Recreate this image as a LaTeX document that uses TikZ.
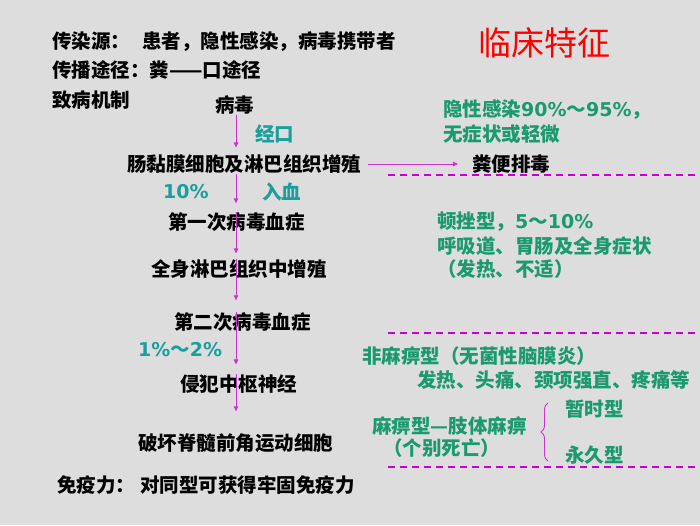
\documentclass[tikz,border=0pt]{standalone}
\usepackage{fontspec}
\newfontfamily\cjk{Noto Sans CJK SC}
\newfontfamily\lat{DejaVu Sans}
\newcommand{\dg}[1]{{\lat\fontsize{19}{22}\selectfont #1}}
\usetikzlibrary{decorations.pathreplacing,arrows.meta}
\definecolor{bg}{HTML}{DDDDDD}
\definecolor{tealc}{HTML}{1A9E9E}
\definecolor{greenc}{HTML}{1A9A6E}
\definecolor{mag}{HTML}{CC33CC}
\definecolor{magd}{HTML}{CC00CC}
\begin{document}
\begin{tikzpicture}[x=1pt,y=-1pt,
  every node/.style={inner sep=0pt, anchor=west, font=\cjk\bfseries\fontsize{19.5}{22}\selectfont},
  blk/.style={text=black},
  tl/.style={text=tealc},
  gr/.style={text=greenc},
  flow/.style={draw=mag, line width=0.9pt, -{Triangle[length=5pt,width=4.5pt]}},
  sep/.style={draw=magd, line width=1.3pt, dash pattern=on 7pt off 5pt},
  bracestyle/.style={draw=mag, line width=0.9pt, decorate, decoration={brace, amplitude=7pt}}]
\fill[bg] (0,0) rectangle (700,525);
\useasboundingbox (0,0) rectangle (700,525);
\coordinate (ax) at (236,0);
% left column
\node[blk] (src) at (52,42) {传染源：\hspace{12pt}患者，隐性感染，病毒携带者};
\node[blk] (route) at (52,70) {传播途径：粪——口途径};
\node[blk] (mech) at (52,100) {致病机制};
\node[blk] (virus) at (215,105) {病毒};
\node[tl] (oral) at (255,134) {经口};
\node[blk] (gut) at (127,164) {肠黏膜细胞及淋巴组织增殖};
\node[tl] (ten) at (163,192) {\dg{10\%}};
\node[tl] (blood) at (262,192) {入血};
\node[blk] (vir1) at (168,222) {第一次病毒血症};
\node[blk] (sys) at (151,269) {全身淋巴组织中增殖};
\node[blk] (vir2) at (174,322) {第二次病毒血症};
\node[tl] (pct) at (138,350) {\dg{1\%}～\dg{2\%}};
\node[blk] (cns) at (180,384) {侵犯中枢神经};
\node[blk] (destroy) at (138,443) {破坏脊髓前角运动细胞};
\node[blk] (immune) at (57,485) {免疫力：\hspace{5pt}对同型可获得牢固免疫力};
% right column
\node[text=red, font=\cjk\fontsize{33}{36}\selectfont] (title) at (478,43) {临床特征};
\node[gr] (lat1) at (443,110) {隐性感染\dg{90\%}～\dg{95\%}，};
\node[gr] (lat2) at (443,134) {无症状或轻微};
\node[blk] (feces) at (472,164) {粪便排毒};
\node[gr] (ab1) at (437,222) {顿挫型，\dg{5}～\dg{10\%}};
\node[gr] (ab2) at (437,246) {呼吸道、胃肠及全身症状};
\node[gr] (ab3) at (437,269) {（发热、不适）};
\node[gr] (np1) at (362,356) {非麻痹型（无菌性脑膜炎）};
\node[gr] (np2) at (417,380) {发热、头痛、颈项强直、疼痛等};
\node[gr] (pa1) at (372,426) {麻痹型—肢体麻痹};
\node[gr] (pa2) at (383,448) {（个别死亡）};
\node[gr] (tmp) at (565,409) {暂时型};
\node[gr] (perm) at (565,455) {永久型};
% flow arrows
\draw[flow, shorten >=7pt] (virus.south -| ax) -- (gut.north -| ax);
\draw[flow, shorten >=9pt] (gut.south -| ax) -- (vir1.north -| ax);
\draw[flow, shorten >=6pt] (vir1.north -| ax) -- (sys.north -| ax);
\draw[flow, shorten >=12pt] (sys.north -| ax) -- (vir2.north -| ax);
\draw[flow, shorten >=10pt] (vir2.north -| ax) -- (cns.north -| ax);
\draw[flow, shorten >=22pt] (cns.north -| ax) -- (destroy.north -| ax);
\draw[flow, shorten <=7pt, shorten >=14pt] (gut.east) -- (feces.west);
% brace
\draw[bracestyle] (548,461) -- (548,403);
% separators
\draw[sep] (388,175) -- (697,175);
\draw[sep] (388,333) -- (697,333);
\draw[sep] (388,467) -- (697,467);
\end{tikzpicture}
\end{document}
